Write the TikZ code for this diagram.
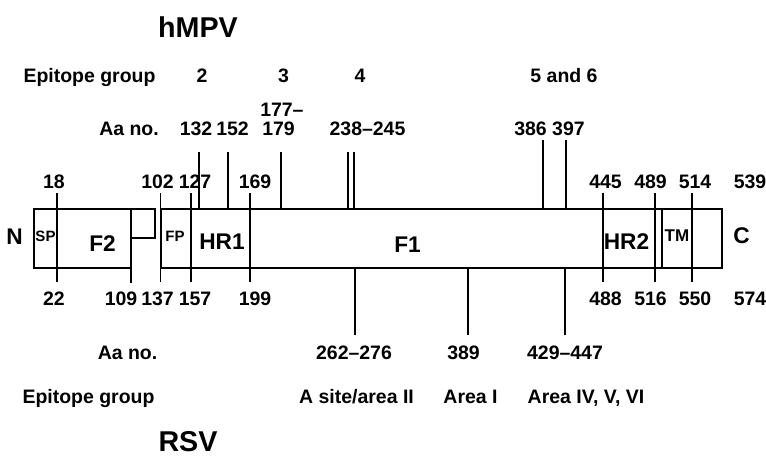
\documentclass[tikz,border=0pt]{standalone}
\usepackage{fontspec}
\setmainfont{Liberation Sans}
\begin{document}
\begin{tikzpicture}[x=0.75pt,y=-0.75pt,
  txt/.style={font=\bfseries\fontsize{14.6}{16}\selectfont, inner sep=0pt, text height=10.45pt, text depth=0pt},
  big/.style={font=\bfseries\fontsize{17}{19}\selectfont, inner sep=0pt, text height=12.2pt, text depth=0pt},
  small/.style={font=\bfseries\fontsize{11.25}{13}\selectfont, inner sep=0pt, text height=8.06pt, text depth=0pt},
  tmstyle/.style={font=\bfseries\fontsize{12.75}{14}\selectfont, inner sep=0pt, text height=9.1pt, text depth=0pt},
  title/.style={font=\bfseries\fontsize{21.5}{24}\selectfont, inner sep=0pt, text height=15.4pt, text depth=0pt},
  boxline/.style={line width=1.5pt},
  tick/.style={line width=0.8pt}]
\fill[white] (0,0) rectangle (766,456);
\useasboundingbox (0,0) rectangle (766,456);

% boxes
\draw[boxline] (33.5,208.5) rectangle (131,268);
\draw[boxline] (131,208.5) -| (154.5,238) -- (131,238);
\draw[boxline] (161,208.5) rectangle (721.5,268);
\draw[tick] (662,208.5) -- (662,268);

% ticks crossing the box
\foreach \x in {57,160.5,191,250,603,655,692}
  \draw[tick] (\x,193) -- (\x,282);
\draw[tick] (131,268) -- (131,283);
% ticks above
\foreach \x in {199,228,281,348,354}
  \draw[tick] (\x,152) -- (\x,208.5);
\foreach \x in {543,566}
  \draw[tick] (\x,140) -- (\x,208.5);
% ticks below
\foreach \x in {355,468,565}
  \draw[tick] (\x,268) -- (\x,335);

% titles
\node[title] (hmpv) at (198,27.5) {hMPV};
\node[title] (rsv) at (188,441) {RSV};

% top labels
\node[txt] (egtop) at (89.5,76) {Epitope group};
\node[txt] (g2) at (202,76) {2};
\node[txt] (g3) at (283.5,76) {3};
\node[txt] (g4) at (360,76) {4};
\node[txt] (g56) at (564,76) {5 and 6};

\node[txt] (aatop) at (129,128.5) {Aa no.};
\node[txt] (a132) at (196,128.5) {132};
\node[txt] (a152) at (232.5,128.5) {152};
\node[txt,anchor=west] (a177) at (260,110) {177–};
\node[txt,anchor=west] (a179) at (262,128.5) {179};
\node[txt] (a238) at (367.5,128.5) {238–245};
\node[txt] (a386) at (549.5,128.5) {386 397};

\node[txt] (n18) at (54,182) {18};
\node[txt] (n102) at (157.5,182) {102};
\node[txt] (n127) at (195,182) {127};
\node[txt] (n169) at (255,182) {169};
\node[txt] (n445) at (605.5,182) {445};
\node[txt] (n489) at (650.5,182) {489};
\node[txt] (n514) at (695,182) {514};
\node[txt] (n539) at (750,182) {539};

% box labels
\node[big] (nterm) at (14.5,236) {N};
\node[small] (sp) at (45.5,236.5) {SP};
\node[big] (f2) at (102.5,243.5) {F2};
\node[small] (fp) at (175,236) {FP};
\node[big] (hr1) at (222,241.5) {HR1};
\node[big] (f1) at (407.5,244.5) {F1};
\node[big] (hr2) at (626.5,241) {HR2};
\node[tmstyle] (tm) at (677,235.5) {TM};
\node[big] (cterm) at (741.5,235) {C};

% bottom numbers
\node[txt] (n22) at (54,299) {22};
\node[txt] (n109) at (121,299) {109};
\node[txt] (n137) at (157.5,299) {137};
\node[txt] (n157) at (195,299) {157};
\node[txt] (n199) at (255,299) {199};
\node[txt] (n488) at (605.5,299) {488};
\node[txt] (n516) at (650.5,299) {516};
\node[txt] (n550) at (695,299) {550};
\node[txt] (n574) at (750,299) {574};

% bottom labels
\node[txt] (aabot) at (127.5,353) {Aa no.};
\node[txt] (b262) at (354,353) {262–276};
\node[txt] (b389) at (463.5,353) {389};
\node[txt] (b429) at (565,353) {429–447};

\node[txt] (egbot) at (88.5,397) {Epitope group};
\node[txt] (asite) at (356.5,397) {A site/area II};
\node[txt] (area1) at (470.5,397) {Area I};
\node[txt] (area4) at (586,397) {Area IV, V, VI};
\end{tikzpicture}
\end{document}
